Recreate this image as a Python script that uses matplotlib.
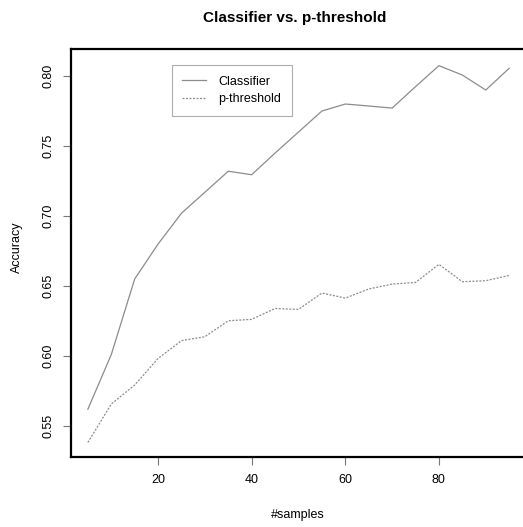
import matplotlib
matplotlib.use("Agg")
import matplotlib.pyplot as plt

plt.rcParams['font.family'] = ['Liberation Sans', 'DejaVu Sans']

samples = [5, 10, 15, 20, 25, 30, 35, 40, 45, 50, 55, 60, 65, 70, 75, 80, 85, 90, 95]
classifier = [0.562, 0.601, 0.655, 0.680, 0.702, 0.717, 0.732, 0.7295, 0.745, 0.760,
              0.775, 0.780, 0.7786, 0.7771, 0.7924, 0.8074, 0.8007, 0.790, 0.8055]
p_threshold = [0.5383, 0.5657, 0.5793, 0.5983, 0.611, 0.6138, 0.6252, 0.6262, 0.634, 0.6333,
               0.645, 0.6414, 0.6479, 0.6514, 0.6526, 0.6655, 0.6531, 0.6538, 0.6576]
x_ticks = [20, 40, 60, 80]
y_ticks = [0.55, 0.60, 0.65, 0.70, 0.75, 0.80]

W, H = 523, 527
fig = plt.figure(figsize=(W / 100, H / 100), dpi=100)
ax = fig.add_axes([71 / W, 1 - 457 / H, (526 - 71) / W, (457 - 49) / H])

line_col = '#8c8c8c'
ax.plot(samples, classifier, color=line_col, lw=0.9, label='Classifier')
ax.plot(samples, p_threshold, color=line_col, lw=0.9, ls=(0, (1.6, 1.2)), label='p-threshold')

ax.set_xlim(1.4, 98.6)
ax.set_ylim(0.5279, 0.8193)
ax.set_xticks(x_ticks)
ax.set_xticklabels([str(t) for t in x_ticks])
ax.set_yticks(y_ticks)
ax.set_yticklabels([f"{t:.2f}" for t in y_ticks], rotation=90, va='center')
ax.tick_params(axis='both', labelsize=9, length=6, width=0.8, color='#777777', pad=6)

for s in ax.spines.values():
    s.set_linewidth(1.6)
    s.set_color('black')

fig.text(295 / W, 1 - 18 / H, 'Classifier vs. p-threshold', ha='center', va='center',
         fontsize=11, fontweight='bold')
fig.text(298 / W, 1 - 515 / H, '#samples', ha='center', va='center', fontsize=9)
fig.text(17 / W, 1 - 247 / H, 'Accuracy', ha='center', va='center', fontsize=9, rotation=90)

leg = fig.legend(loc='upper left', bbox_to_anchor=(171.7 / W, 1 - 65 / H), borderaxespad=0,
                 fontsize=9, frameon=True, fancybox=False, handlelength=1.9,
                 handletextpad=1.0, borderpad=0.85, labelspacing=0.45)
leg.get_frame().set_edgecolor('#999999')
leg.get_frame().set_linewidth(0.8)

fig.savefig('out.png', dpi=100)
